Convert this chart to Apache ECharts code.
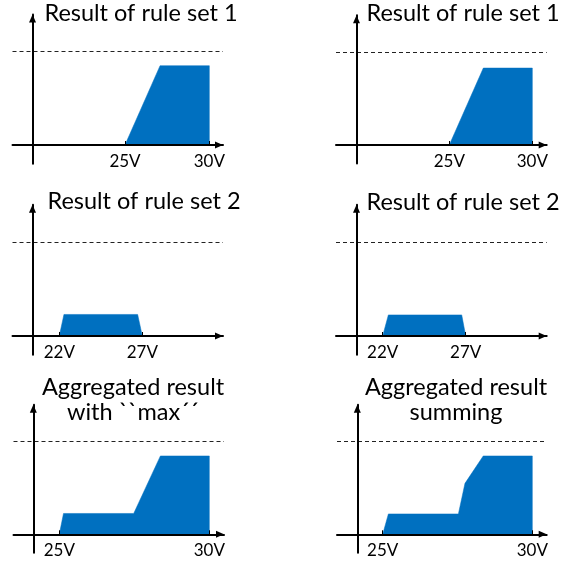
<!DOCTYPE html>
<html><head><meta charset="utf-8">
<script src="https://cdn.jsdelivr.net/npm/echarts@6/dist/echarts.min.js"></script>
<style>html,body{margin:0;padding:0;background:#fff}#c{width:561px;height:563px}</style>
</head><body><div id="c"></div>
<script>
// ---- data ----
const titleRule1 = 'Result of rule set 1';
const titleRule2 = 'Result of rule set 2';
const titleMax = 'Aggregated result\nwith ``max´´';
const titleSum = 'Aggregated result\nsumming';

const ticksRule1 = [25, 30];
const ticksRule2 = [22, 27];
const ticksAgg = [25, 30];
const tickUnit = 'V';
const fullLevel = 1; // dashed reference level

const rule1LeftX = [25, 27.08, 30, 30];
const rule1LeftY = [0, 0.85, 0.85, 0];
const rule1RightX = [25, 27.05, 30, 30];
const rule1RightY = [0, 0.83, 0.83, 0];
const rule2LeftX = [22, 22.28, 26.72, 27];
const rule2LeftY = [0, 0.23, 0.23, 0];
const rule2RightX = [22, 22.34, 26.76, 27];
const rule2RightY = [0, 0.225, 0.225, 0];
const maxAggX = [25, 25.14, 27.48, 28.37, 30, 30];
const maxAggY = [0, 0.225, 0.225, 0.846, 0.846, 0];
const sumAggX = [25, 25.19, 27.53, 27.75, 27.8, 28.36, 30, 30];
const sumAggY = [0, 0.22, 0.22, 0.55, 0.56, 0.846, 0.846, 0];

// ---- layout (pixels) ----
const layout = [
  {left: 12.5, right: 223, yAxisX: 32.5, zeroY: 145, oneY: 51.7, tickPx: [125, 209.3], tx: 141, ty: 1},
  {left: 336, right: 546.7, yAxisX: 356.5, zeroY: 145, oneY: 52.3, tickPx: [449.3, 532.3], tx: 463, ty: 1},
  {left: 12.5, right: 223, yAxisX: 32.5, zeroY: 336, oneY: 242.3, tickPx: [59.3, 142.3], tx: 144, ty: 189},
  {left: 336, right: 546.7, yAxisX: 356.5, zeroY: 336, oneY: 242.3, tickPx: [382.7, 465.7], tx: 463, ty: 190},
  {left: 13.5, right: 224, yAxisX: 33.3, zeroY: 534.3, oneY: 441.7, tickPx: [59.3, 209.3], tx: 133, ty: 375},
  {left: 337, right: 546.7, yAxisX: 357.3, zeroY: 534.3, oneY: 441.7, tickPx: [382.7, 532.3], tx: 456, ty: 375}
];

const panels = [
  {title: titleRule1, ticks: ticksRule1, xs: rule1LeftX, ys: rule1LeftY},
  {title: titleRule1, ticks: ticksRule1, xs: rule1RightX, ys: rule1RightY},
  {title: titleRule2, ticks: ticksRule2, xs: rule2LeftX, ys: rule2LeftY},
  {title: titleRule2, ticks: ticksRule2, xs: rule2RightX, ys: rule2RightY},
  {title: titleMax, ticks: ticksAgg, xs: maxAggX, ys: maxAggY},
  {title: titleSum, ticks: ticksAgg, xs: sumAggX, ys: sumAggY}
];

const FONT = 'Lato';
const Y_MIN = -0.2, Y_MAX = 1.4;
const option = {
  animation: false,
  backgroundColor: '#fff',
  title: [], grid: [], xAxis: [], yAxis: [], series: []
};

panels.forEach((p, i) => {
  const L = layout[i];
  const ppv = (L.tickPx[1] - L.tickPx[0]) / (p.ticks[1] - p.ticks[0]);
  const xMin = p.ticks[0] - (L.tickPx[0] - L.left) / ppv;
  const xMax = p.ticks[0] + (L.right - L.tickPx[0]) / ppv;
  const ppu = L.zeroY - L.oneY;
  option.title.push({
    text: p.title, left: L.tx, top: L.ty, textAlign: 'center', padding: 0,
    textStyle: {fontFamily: FONT, fontSize: 23.5, fontWeight: 'normal', color: '#000', lineHeight: 25}
  });
  option.grid.push({
    left: L.left, top: L.zeroY - Y_MAX * ppu,
    width: L.right - L.left, height: (Y_MAX - Y_MIN) * ppu,
    containLabel: false, outerBoundsMode: 'none'
  });
  option.xAxis.push({
    type: 'value', gridIndex: i, min: xMin, max: xMax, z: 5,
    position: 'bottom', offset: -(-Y_MIN * ppu),
    axisLine: {onZero: false, lineStyle: {color: '#000', width: 2},
      symbol: ['none', 'triangle'], symbolSize: [7, 8], symbolOffset: [0, -4]},
    axisTick: {show: true, inside: true, length: 4, customValues: p.ticks,
      lineStyle: {color: '#000', width: 1}},
    axisLabel: {show: true, customValues: p.ticks, formatter: v => v + tickUnit,
      fontFamily: FONT, fontSize: 17, color: '#000', margin: 8},
    splitLine: {show: false}
  });
  option.yAxis.push({
    type: 'value', gridIndex: i, min: Y_MIN, max: Y_MAX, position: 'left', z: 5,
    offset: -(L.yAxisX - L.left),
    axisLine: {show: true, onZero: false, lineStyle: {color: '#000', width: 2},
      symbol: ['none', 'triangle'], symbolSize: [7, 8], symbolOffset: [0, -4]},
    axisTick: {show: false}, axisLabel: {show: false}, splitLine: {show: false}
  });
  option.series.push({
    type: 'line', xAxisIndex: i, yAxisIndex: i,
    data: p.xs.map((x, k) => [x, p.ys[k]]),
    symbol: 'none', silent: true,
    lineStyle: {color: '#0070C0', width: 0.5},
    areaStyle: {color: '#0070C0', opacity: 1},
    markLine: {silent: true, symbol: ['none', 'none'], label: {show: false},
      lineStyle: {type: [4, 3], color: '#222', width: 1},
      emphasis: {disabled: true},
      data: [{yAxis: fullLevel}]}
  });
});

const chart = echarts.init(document.getElementById('c'), null, {renderer: 'canvas'});
chart.setOption(option);
</script>
</body></html>
